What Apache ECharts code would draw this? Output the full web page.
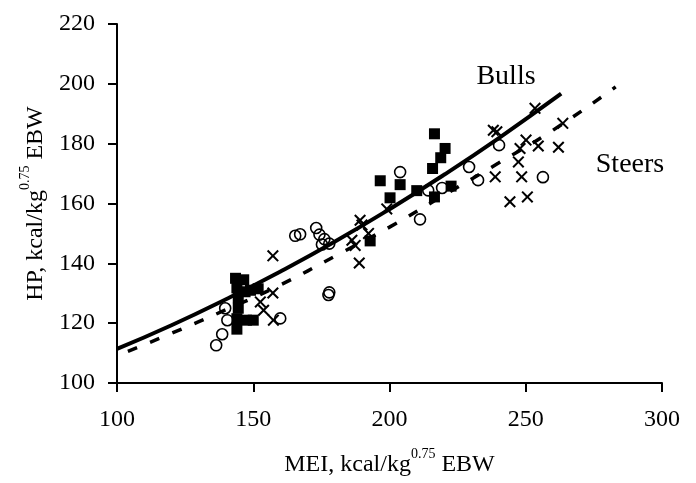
<!DOCTYPE html>
<html>
<head>
<meta charset="utf-8">
<script src="https://cdn.jsdelivr.net/npm/echarts@6/dist/echarts.min.js"></script>
<style>
  html, body { margin: 0; padding: 0; background: #fff; }
  #chart { width: 696px; height: 483px; }
</style>
</head>
<body>
<div id="chart"></div>
<script>
const FONT = "Liberation Serif";

// Filled squares
const bullPoints = [
  [143.5, 135.0], [146.5, 134.5], [144.0, 131.8], [147.0, 130.5], [149.0, 131.0],
  [151.8, 131.5], [144.5, 128.5], [144.5, 125.0], [144.0, 121.5], [144.0, 118.0],
  [147.5, 121.0], [150.0, 121.0], [192.9, 147.5], [196.6, 167.6], [200.2, 161.9],
  [203.9, 166.3], [210.0, 164.3], [216.5, 162.2], [215.8, 171.7], [218.8, 175.3],
  [220.4, 178.4], [216.5, 183.3], [222.6, 165.8]
];

// Open circles
const circlePoints = [
  [136.4, 112.6], [138.6, 116.3], [140.5, 121.0], [139.7, 125.0], [159.9, 121.6],
  [165.4, 149.2], [167.2, 149.7], [173.1, 151.8], [174.3, 149.6], [176.1, 148.1],
  [175.2, 146.3], [177.9, 146.6], [177.9, 130.3], [177.6, 129.4], [203.9, 170.5],
  [211.2, 154.7], [214.2, 164.4], [219.3, 165.2], [229.2, 172.2], [232.5, 167.8],
  [240.2, 179.5], [256.3, 168.8]
];

// Crosses
const crossPoints = [
  [152.6, 127.1], [153.8, 124.3], [157.4, 121.0], [157.2, 130.1], [157.2, 142.5],
  [186.2, 147.7], [187.4, 146.0], [188.9, 140.1], [189.2, 154.4], [189.9, 152.8],
  [192.3, 150.0], [199.0, 158.2], [238.1, 184.5], [239.4, 184.0], [253.4, 191.8],
  [263.6, 186.8], [250.1, 181.2], [254.6, 179.2], [262.0, 178.8], [247.9, 178.4],
  [247.3, 173.9], [248.5, 168.9], [238.8, 168.9], [244.2, 160.6], [250.6, 162.2]
];

// Regression lines
const bullsLine = [
  [100, 111.4], [120, 119.3], [140, 128.0], [160, 137.3], [180, 147.3],
  [200, 158.1], [220, 169.6], [240, 181.8], [263, 196.7]
];
const steersLine = [
  [104, 110.6], [120, 116.6], [140, 124.5], [160, 132.8], [180, 142.4],
  [200, 152.1], [220, 162.8], [240, 173.5], [260, 184.5], [283, 199.0]
];

const xTicks = { min: 100, max: 300, interval: 50 };
const yTicks = { min: 100, max: 220, interval: 20 };

const crossPath = "path://M0,1.2L1.2,0L5,3.8L8.8,0L10,1.2L6.2,5L10,8.8L8.8,10L5,6.2L1.2,10L0,8.8L3.8,5Z";

const chart = echarts.init(document.getElementById("chart"));

const axisCommon = {
  axisLine: { lineStyle: { color: "#000", width: 2 } },
  axisTick: { inside: false, length: 9, lineStyle: { color: "#000", width: 2 } },
  splitLine: { show: false },
  nameLocation: "middle",
  nameTextStyle: {
    color: "#000",
    fontFamily: FONT,
    fontSize: 24,
    rich: {
      n: { fontFamily: FONT, fontSize: 24, color: "#000", lineHeight: 30, verticalAlign: "bottom" },
      s: { fontFamily: FONT, fontSize: 14, color: "#000", lineHeight: 16, verticalAlign: "top" }
    }
  }
};

const options = {
  backgroundColor: "#fff",
  animation: false,
  grid: { left: 117, right: 34, top: 24, bottom: 100, containLabel: false, outerBoundsMode: "none" },
  xAxis: {
    ...axisCommon,
    type: "value",
    ...xTicks,
    name: "{n|MEI, kcal/kg}{s|0.75}{n| EBW}",
    nameGap: 64,
    axisLabel: { color: "#000", fontFamily: FONT, fontSize: 24, margin: 25 }
  },
  yAxis: {
    ...axisCommon,
    type: "value",
    ...yTicks,
    name: "{n|HP, kcal/kg}{s|0.75}{n| EBW}",
    nameGap: 66,
    axisLabel: { color: "#000", fontFamily: FONT, fontSize: 24, margin: 22 }
  },
  series: [
    {
      type: "scatter",
      data: bullPoints,
      symbol: "rect",
      symbolSize: 11,
      itemStyle: { color: "#000", opacity: 1 }
    },
    {
      type: "scatter",
      data: circlePoints,
      symbol: "circle",
      symbolSize: 11,
      itemStyle: { color: "rgba(0,0,0,0)", borderColor: "#000", borderWidth: 1.6, opacity: 1 }
    },
    {
      type: "scatter",
      data: crossPoints,
      symbol: crossPath,
      symbolSize: 12,
      itemStyle: { color: "#000", opacity: 1 }
    },
    {
      name: "Bulls",
      type: "line",
      data: bullsLine,
      smooth: true,
      showSymbol: false,
      lineStyle: { color: "#000", width: 4 }
    },
    {
      name: "Steers",
      type: "line",
      data: steersLine,
      smooth: true,
      showSymbol: false,
      lineStyle: { color: "#000", width: 3.5, type: [10, 14] }
    }
  ],
  graphic: [
    { type: "text", x: 506, y: 77, style: { text: "Bulls", fontFamily: FONT, fontSize: 28, fill: "#000", align: "center", verticalAlign: "middle" } },
    { type: "text", x: 630, y: 165, style: { text: "Steers", fontFamily: FONT, fontSize: 28, fill: "#000", align: "center", verticalAlign: "middle" } }
  ]
};

chart.setOption(options);
</script>
</body>
</html>
